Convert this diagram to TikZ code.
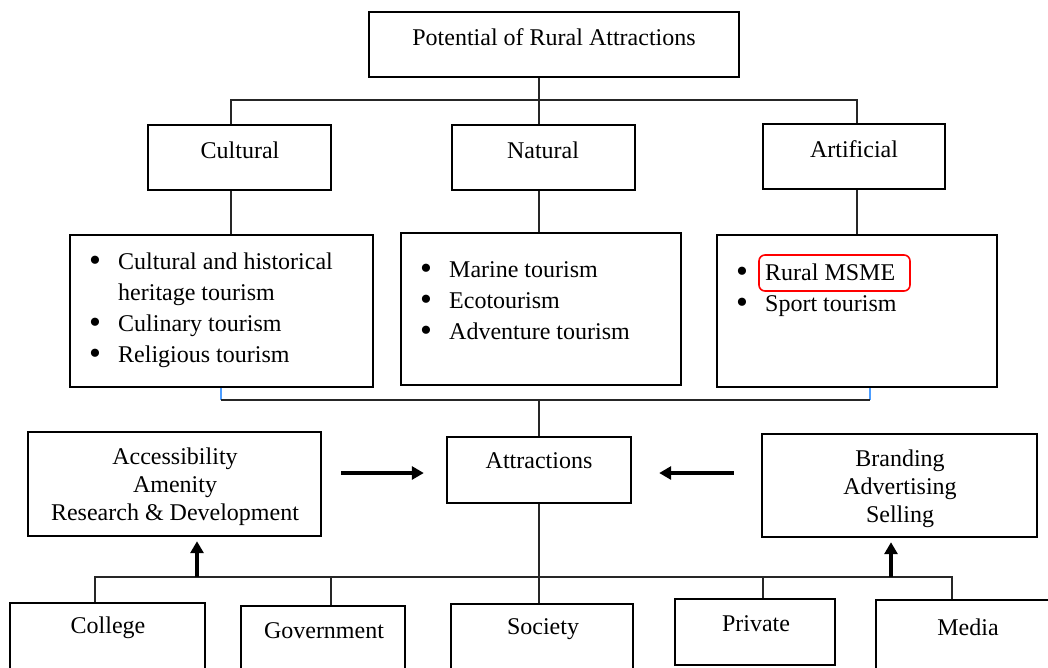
\documentclass[tikz,border=0pt]{standalone}
\usepackage{fontspec}
\setmainfont{Liberation Serif}
\usetikzlibrary{arrows.meta}
\newcommand{\bigbul}{\makebox[29pt][l]{\raisebox{-2.5pt}{\fontsize{34}{31}\selectfont\textbullet}}}
\begin{document}
\begin{tikzpicture}[x=1pt,y=-1pt,
  font=\fontsize{24}{31}\selectfont,
  box/.style={draw=black,line width=2.4pt,inner sep=0pt,fill=white},
  txt/.style={inner sep=0pt,text=black},
  conn/.style={draw=black!85,line width=1.1pt},
  bigarrow/.style={draw=black,line width=3.5pt,-{Triangle[length=12pt,width=13pt]}},
  hl/.style={draw=red,line width=1.6pt,rounded corners=6pt,inner sep=0pt},
  blueend/.style={draw=blue!55!cyan!70,line width=1.1pt}]
\useasboundingbox (0,0) rectangle (1048,667);
\clip (0,0) rectangle (1048,667);
\fill[white] (0,0) rectangle (1048,667);

% bus coordinates
\coordinate (b1) at (539,100);
\coordinate (bL) at (231,100);
\coordinate (bR) at (857,100);
\coordinate (k1) at (221,400);
\coordinate (kM) at (539,400);
\coordinate (k2) at (870,400);
\coordinate (ay) at (539,473);
\coordinate (d0) at (95,577);
\coordinate (dM) at (539,577);
\coordinate (d1) at (952,577);
\coordinate (ua) at (197,577);
\coordinate (ub) at (891,577);
\coordinate (g1) at (331,577);
\coordinate (g2) at (763,577);

% boxes
\node[box,minimum width=370,minimum height=65] (top) at (554,44.5) {};
\node[box,minimum width=183,minimum height=65] (cult) at (239.5,157.5) {};
\node[box,minimum width=183,minimum height=65] (nat) at (543.5,157.5) {};
\node[box,minimum width=182,minimum height=65] (art) at (854,156.5) {};
\node[box,minimum width=303,minimum height=152] (l1) at (221.5,311) {};
\node[box,minimum width=280,minimum height=152] (l2) at (541,309) {};
\node[box,minimum width=280,minimum height=152] (l3) at (857,311) {};
\node[box,minimum width=184,minimum height=66] (att) at (539,470) {};
\node[box,minimum width=293,minimum height=104] (lbox) at (174.5,484) {};
\node[box,minimum width=275,minimum height=103] (rbox) at (899.5,485.5) {};
\node[box,minimum width=195,minimum height=80] (col) at (107.5,643) {};
\node[box,minimum width=164,minimum height=80] (gov) at (323,646) {};
\node[box,minimum width=182,minimum height=80] (soc) at (542,644) {};
\node[box,minimum width=160,minimum height=66] (priv) at (755,632) {};
\node[box,minimum width=184,minimum height=80] (med) at (968,640) {};

% connectors
\draw[conn] (top.south -| b1) -- (b1);
\draw[conn] (cult.north -| bL) -- (bL) -- (bR) -- (art.north -| bR);
\draw[conn] (b1) -- (nat.north -| b1);
\draw[conn] (cult.south -| bL) -- (l1.north -| bL);
\draw[conn] (nat.south -| b1) -- (l2.north -| b1);
\draw[conn] (art.south -| bR) -- (l3.north -| bR);
\draw[blueend] (l1.south -| k1) -- (k1);
\draw[blueend] (l3.south -| k2) -- (k2);
\draw[conn] (k1) -- (k2);
\draw[conn] (kM) -- (att.north -| kM);
\draw[conn] (att.south -| dM) -- (dM);
\draw[conn] (col.north -| d0) -- (d0) -- (d1) -- (med.north -| d1);
\draw[conn] (g1) -- (gov.north -| g1);
\draw[conn] (dM) -- (soc.north -| dM);
\draw[conn] (g2) -- (priv.north -| g2);

% texts
\node[txt] (ttop) at (554,37) {Potential of Rural Attractions};
\node[txt] (tcult) at (240,150) {Cultural};
\node[txt] (tnat) at (543,150) {Natural};
\node[txt] (tart) at (854,149) {Artificial};
\node[txt,anchor=base west] (tl1) at (89,269) {\begin{tabular}[t]{@{}l@{}l@{}}
\bigbul&Cultural and historical\\
&heritage tourism\\
\bigbul&Culinary tourism\\
\bigbul&Religious tourism\end{tabular}};
\node[txt,anchor=base west] (tl2) at (420,277) {\begin{tabular}[t]{@{}l@{}l@{}}
\bigbul&Marine tourism\\
\bigbul&Ecotourism\\
\bigbul&Adventure tourism\end{tabular}};
\node[txt,anchor=base west] (tl3) at (736,280) {\begin{tabular}[t]{@{}l@{}l@{}}
\bigbul&Rural MSME\\
\bigbul&Sport tourism\end{tabular}};
\node[hl,minimum width=151,minimum height=36] (msme) at (834.5,273) {};
\node[txt] (tatt) at (539,461) {Attractions};
\node[txt,align=center,font=\fontsize{24}{28}\selectfont] (tl) at (175,487) {Accessibility\\Amenity\\Research \& Development};
\node[txt,align=center,font=\fontsize{24}{28}\selectfont] (tr) at (900,489) {Branding\\Advertising\\Selling};
\node[txt] (tcol) at (108,628) {College};
\node[txt] (tgov) at (324,631) {Government};
\node[txt] (tsoc) at (543,629) {Society};
\node[txt] (tpriv) at (756,624) {Private};
\node[txt] (tmed) at (968,627) {Media};

% thick arrows
\draw[bigarrow,shorten <=19pt,shorten >=22pt] (lbox.east |- ay) -- (att.west |- ay);
\draw[bigarrow,shorten <=27pt,shorten >=27pt] (rbox.west |- ay) -- (att.east |- ay);
\draw[bigarrow,shorten >=4pt] (ua) -- (lbox.south -| ua);
\draw[bigarrow,shorten >=4pt] (ub) -- (rbox.south -| ub);
\end{tikzpicture}
\end{document}
